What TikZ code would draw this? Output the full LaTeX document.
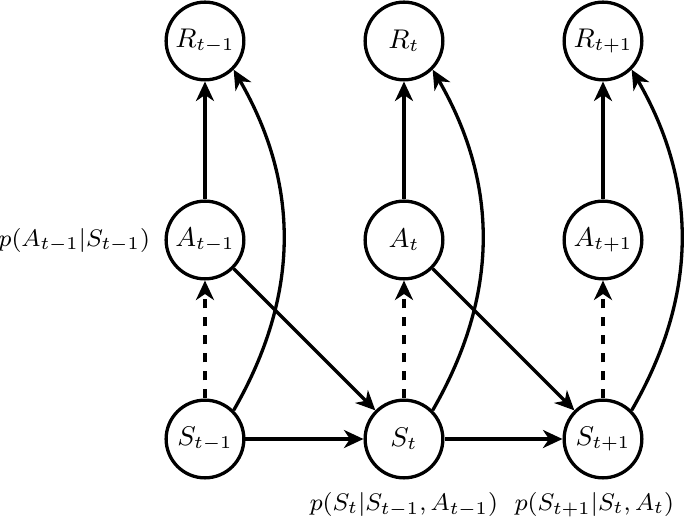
\documentclass[tikz,border=0pt]{standalone}
\usepackage{tikz}
\usetikzlibrary{shapes,arrows,arrows.meta}
\tikzstyle{c} = [circle, minimum size=0.91cm, inner sep=0pt, draw=black, font=\small]
\tikzstyle{l} = [font=\fontsize{8.4}{10}\selectfont]
\usepackage{amsmath}

\begin{document}
\begin{tikzpicture}[node distance=2.33cm, line width=1.1pt, >={Stealth[length=6.5pt,width=6pt,inset=2pt]}]
		\useasboundingbox (-2.40,0.48) rectangle (5.62,-5.62);
		\node[c](r1){$R_{t-1}$};
		\node[c,right of=r1](r2){$R_t$};
		\node[c,right of=r2](r3){$R_{t+1}$};
		\node[c,below of=r1](a1){$A_{t-1}$};
		\node[c,below of=r2](a2){$A_t$};
		\node[c,below of=r3](a3){$A_{t+1}$};
		\node[c,below of=a1](s1){$S_{t-1}$};
		\node[c,below of=a2](s2){$S_t$};
		\node[c,below of=a3](s3){$S_{t+1}$};
		\node[l,left of=a1,xshift=0.80cm](pa1){$p(A_{t-1}|S_{t-1})$};
		\node[l,below of=s2,yshift=1.56cm](ps2){$p(S_t|S_{t-1},A_{t-1})$};
		\node[l,below of=s3,yshift=1.56cm,xshift=-0.1cm](ps3){$p(S_{t+1}|S_t,A_t)$};
		\draw[->] (a1)--(r1);
		\draw[->] (a2)--(r2);
		\draw[->] (a3)--(r3);
		\draw[->,dashed] (s1)--(a1);
		\draw[->,dashed] (s2)--(a2);
		\draw[->,dashed] (s3)--(a3);
		\draw[->] (s1)--(s2);
		\draw[->] (s2)--(s3);
		\draw[->] (a1)--(s2);
		\draw[->] (a2)--(s3);
		\draw[->] (s1.45) to[out=60,in=-60] (r1.-45);
		\draw[->] (s2.45) to[out=60,in=-60] (r2.-45);
		\draw[->] (s3.45) to[out=60,in=-60] (r3.-45);
		\end{tikzpicture}
\end{document}
